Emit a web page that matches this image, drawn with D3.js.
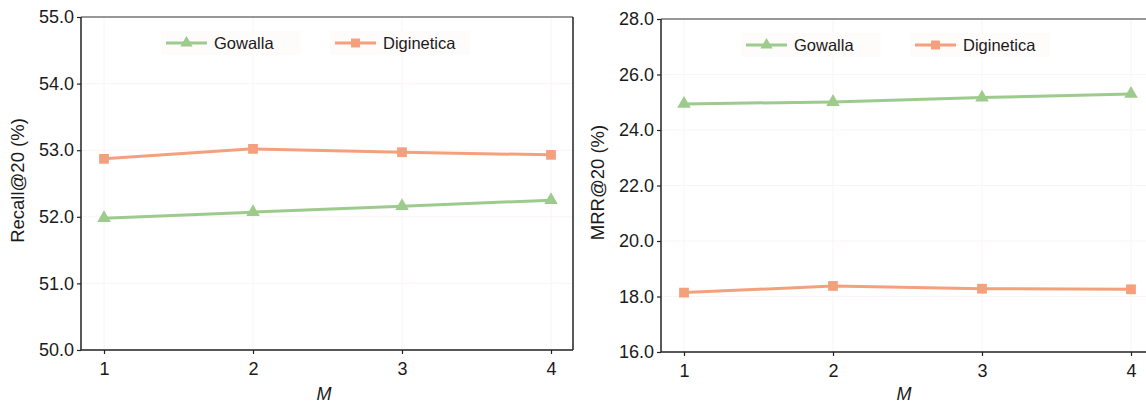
<!DOCTYPE html>
<html lang="en">
<head>
<script src="https://d3js.org/d3.v7.min.js"></script>
<style>
  body { margin: 0; background: #fff; }
  text { font-family: "Liberation Sans", Arial, sans-serif; fill: #1a1a1a; }
</style>
</head>
<body>
<script>
// values
var mValues = [1, 2, 3, 4];
var seriesNames = ["Gowalla", "Diginetica"];
var recallGowalla = [51.98, 52.07, 52.16, 52.25];
var recallDiginetica = [52.87, 53.02, 52.97, 52.93];
var mrrGowalla = [24.94, 25.01, 25.17, 25.30];
var mrrDiginetica = [18.14, 18.38, 18.28, 18.26];
var recallTicks = [50, 51, 52, 53, 54, 55];
var mrrTicks = [16, 18, 20, 22, 24, 26, 28];

const W = 1146, H = 403;
const green = "#9dcb8e", orange = "#f4a07c";

const svg = d3.select("body").append("svg")
  .attr("width", W).attr("height", H);

// one panel
function panel(opt) {
  const g = svg.append("g");
  const x = d3.scaleLinear().domain([1, 4]).range([opt.left + 23, opt.left + 470]);
  const y = d3.scaleLinear().domain(opt.domain).range([opt.bottom, opt.top]);

  // faint grid
  g.selectAll(".gy").data(opt.ticks).enter().append("line")
    .attr("x1", opt.left).attr("x2", opt.right)
    .attr("y1", d => y(d)).attr("y2", d => y(d))
    .attr("stroke", "#faf4f4");
  g.selectAll(".gx").data(mValues).enter().append("line")
    .attr("x1", d => x(d)).attr("x2", d => x(d))
    .attr("y1", opt.top).attr("y2", opt.bottom)
    .attr("stroke", "#faf4f4");

  // frame
  g.append("line").attr("x1", opt.left).attr("x2", opt.right)
    .attr("y1", opt.top).attr("y2", opt.top).attr("stroke", "#777").attr("stroke-width", 1.5);
  g.append("line").attr("x1", opt.right).attr("x2", opt.right)
    .attr("y1", opt.top).attr("y2", opt.bottom).attr("stroke", "#222").attr("stroke-width", 1.5);

  const ya = g.append("g").attr("transform", "translate(" + opt.left + ",0)")
    .call(d3.axisLeft(y).tickValues(opt.ticks).tickFormat(d3.format(".1f")).tickSize(4).tickPadding(3));
  const xa = g.append("g").attr("transform", "translate(0," + opt.bottom + ")")
    .call(d3.axisBottom(x).tickValues(mValues).tickFormat(d3.format("d")).tickSize(4).tickPadding(8));
  [ya, xa].forEach(a => {
    a.select(".domain").attr("stroke", "#222").attr("stroke-width", 1.5);
    a.selectAll(".tick line").attr("stroke", "#222").attr("stroke-width", 1.2);
    a.selectAll("text").style("font-size", "18px").attr("fill", "#1a1a1a")
      .style("font-family", "Liberation Sans, Arial, sans-serif");
  });
  xa.select(".domain").attr("d", "M" + opt.left + ",0H" + opt.right);
  ya.select(".domain").attr("d", "M0," + opt.top + "V" + opt.bottom);

  // axis titles
  g.append("text")
    .attr("transform", "translate(" + (opt.left - 57) + "," + ((opt.top + opt.bottom) / 2 - 3) + ") rotate(-90)")
    .attr("text-anchor", "middle").style("font-size", "18.5px").text(opt.ylabel);
  g.append("text").attr("x", (opt.left + opt.right) / 2 - 3).attr("y", 400)
    .attr("text-anchor", "middle").style("font-size", "18px").style("font-style", "italic").text("M");

  const line = d3.line().x((d, i) => x(mValues[i])).y(d => y(d));
  const series = [
    { name: seriesNames[0], vals: opt.gowalla, color: green, shape: d3.symbolTriangle },
    { name: seriesNames[1], vals: opt.diginetica, color: orange, shape: d3.symbolSquare }
  ];
  series.forEach(s => {
    g.append("path").datum(s.vals).attr("d", line)
      .attr("fill", "none").attr("stroke", s.color).attr("stroke-width", 3);
    g.selectAll(null).data(s.vals).enter().append("path")
      .attr("d", d3.symbol().type(s.shape).size(s.shape === d3.symbolSquare ? 95 : 80))
      .attr("transform", (d, i) => "translate(" + x(mValues[i]) + "," + y(d) + ")")
      .attr("fill", s.color);
  });

  // legend
  series.forEach((s, i) => {
    const lx = opt.left + 85 + i * 169, ly = opt.top + 26;
    g.append("rect").attr("x", lx - 5).attr("y", ly - 12).attr("width", 140).attr("height", 24)
      .attr("fill", "#fefbfb");
    g.append("line").attr("x1", lx).attr("x2", lx + 41).attr("y1", ly).attr("y2", ly)
      .attr("stroke", s.color).attr("stroke-width", 3);
    g.append("path").attr("d", d3.symbol().type(s.shape).size(s.shape === d3.symbolSquare ? 80 : 65))
      .attr("transform", "translate(" + (lx + 20.5) + "," + ly + ")").attr("fill", s.color);
    g.append("text").attr("x", lx + 48).attr("y", ly + 6).style("font-size", "16.5px").text(s.name);
  });
}

panel({ left: 81, right: 573, top: 17, bottom: 350, domain: [50, 55], ticks: recallTicks,
        ylabel: "Recall@20 (%)", gowalla: recallGowalla, diginetica: recallDiginetica });
panel({ left: 661, right: 1153, top: 19, bottom: 352, domain: [16, 28], ticks: mrrTicks,
        ylabel: "MRR@20 (%)", gowalla: mrrGowalla, diginetica: mrrDiginetica });
</script>
</body>
</html>
